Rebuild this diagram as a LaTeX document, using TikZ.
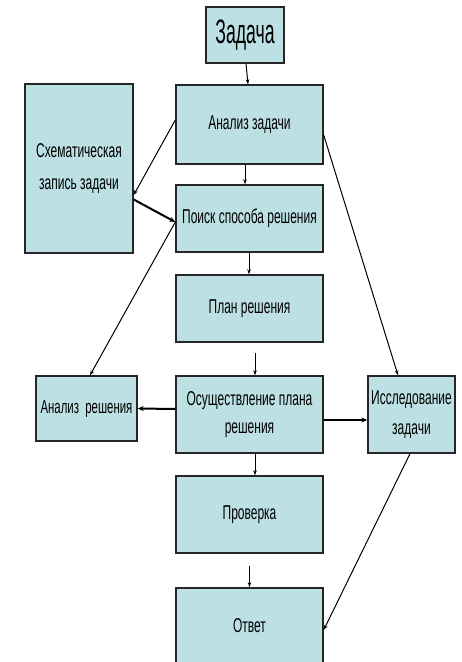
\documentclass[tikz,border=0pt]{standalone}
\usepackage{fontspec}
\setmainfont{Liberation Sans}[FakeStretch=0.6]
\newfontfamily\bigfont{Liberation Sans}[FakeStretch=0.52]
\usetikzlibrary{arrows.meta}
\definecolor{boxfill}{RGB}{188,224,228}
\tikzset{
  box/.style={draw=black!85, line width=1.4pt, fill=boxfill, inner sep=2pt, align=center, font=\fontsize{20}{30}\selectfont},
  arr/.style={line width=1pt, -{Stealth[length=5pt,width=3.5pt]}},
  thickarr/.style={line width=2pt, -{Stealth[length=6pt,width=5pt]}}
}
\begin{document}
\begin{tikzpicture}[x=1pt,y=-1pt]
\useasboundingbox[fill=white] (0,0) rectangle (461,662);
\node[box, minimum width=78pt, minimum height=56pt, font=\bigfont\fontsize{34}{36}\selectfont] (zad) at (245,35) {Задача};
\node[box, minimum width=147pt, minimum height=79pt] (an) at (249.5,124.5) {Анализ задачи};
\node[box, minimum width=147pt, minimum height=67pt] (poisk) at (249.5,218.5) {Поиск способа решения};
\node[box, minimum width=108pt, minimum height=169pt, font=\fontsize{20}{32}\selectfont] (shem) at (79,168.5) {Схематическая\\запись задачи};
\node[box, minimum width=147pt, minimum height=67pt] (plan) at (249.5,308.5) {План решения};
\node[box, minimum width=101pt, minimum height=65pt, font=\fontsize{19}{28}\selectfont] (anres) at (86.5,408.5) {Анализ\ \ решения};
\node[box, minimum width=147pt, minimum height=77pt, font=\fontsize{20}{28}\selectfont] (osu) at (249.5,414.5) {Осуществление плана\\решения};
\node[box, minimum width=87pt, minimum height=77pt, font=\fontsize{20}{30}\selectfont] (issl) at (411.5,414.5) {Исследование\\задачи};
\node[box, minimum width=147pt, minimum height=77pt] (prov) at (249.5,514.5) {Проверка};
\node[box, minimum width=147pt, minimum height=76pt] (otv) at (249.5,626) {Ответ};

\draw[arr] ([xshift=1pt]zad.south) -- ([xshift=-1.5pt]an.north);
\draw[arr] ([xshift=-4.5pt]an.south) -- ([xshift=-4.5pt]poisk.north);
\draw[arr] ([yshift=4.5pt]an.west) -- ([yshift=-26.5pt]shem.east);
\draw[thickarr] ([yshift=-31pt]shem.east) -- ([yshift=-3.5pt]poisk.west);
\draw[arr] ([yshift=-3.5pt]poisk.west) -- ([xshift=3.5pt]anres.north);
\draw[arr] ([yshift=-10.5pt]an.east) -- ([xshift=-13.5pt]issl.north);
\draw[arr] ([xshift=-0.5pt]poisk.south) -- ([xshift=-0.5pt]plan.north);
\draw[arr] ([xshift=5.5pt,yshift=-10pt]plan.south) -- ([xshift=5.5pt]osu.north);
\draw[thickarr] ([yshift=5.5pt]osu.west) -- ([yshift=0pt]anres.east);
\draw[thickarr] ([yshift=-5.5pt]osu.east) -- ([yshift=-5.5pt]issl.west);
\draw[arr] ([xshift=5.5pt]osu.south) -- ([xshift=5.5pt]prov.north);
\draw[arr] ([yshift=-12pt]prov.south) -- (otv.north);
\draw[arr] ([xshift=-1.5pt]issl.south) -- ([yshift=-4pt]otv.east);
\end{tikzpicture}
\end{document}
